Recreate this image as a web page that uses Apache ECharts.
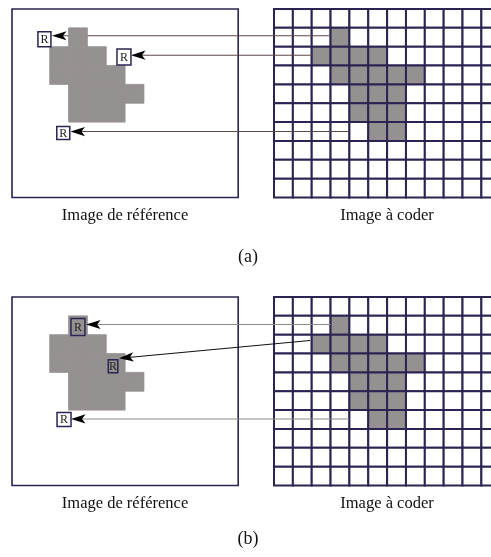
<!DOCTYPE html>
<html>
  <head>
    <title></title>
    <meta charset="UTF-8" />
    <script src="https://cdn.jsdelivr.net/npm/echarts@6/dist/echarts.min.js"></script>
    <style>
      body { margin: 0; background: #fff; }
    </style>
  </head>
  <body>
    <div id="main"></div>
    <script>
      const width = 491;
      const height = 557;
      const main = document.getElementById('main');
      main.style.width = `${width}px`;
      main.style.height = `${height}px`;

      // --- data (all in cell units) ---
      const refCols = 12;
      const gridRows = 10;
      const codeCols = 12;
      const codeOffset = 13.9; // where the coded image starts, in cells
      // gray block in the reference image [col, row]
      const refShape = [
        [3, 1],
        [2, 2], [3, 2], [4, 2],
        [2, 3], [3, 3], [4, 3], [5, 3],
        [3, 4], [4, 4], [5, 4], [6, 4],
        [3, 5], [4, 5], [5, 5],
      ];
      // gray block in the image to code [col, row]
      const codeShape = [
        [3, 1],
        [2, 2], [3, 2], [4, 2], [5, 2],
        [3, 3], [4, 3], [5, 3], [6, 3], [7, 3],
        [4, 4], [5, 4], [6, 4],
        [4, 5], [5, 5], [6, 5],
        [5, 6], [6, 6],
      ];
      // reference blocks "R" (centre x, centre y)
      const blocksA = [[1.72, 1.6], [5.94, 2.55], [2.72, 6.58]];
      const blocksB = [[3.5, 1.59], [5.36, 3.68], [2.76, 6.5]];
      // arrows [x from, y from, x to, y to]
      const arrowsA = [
        [16.9, 1.42, 2.12, 1.42],
        [15.9, 2.45, 6.31, 2.45],
        [17.9, 6.5, 3.1, 6.5],
      ];
      const arrowsB = [
        [16.9, 1.46, 3.93, 1.46],
        [15.81, 2.31, 5.68, 3.25],
        [17.88, 6.47, 3.13, 6.47],
      ];
      const captions = ['(a)', '(b)'];

      // --- look ---
      const CELL = 18.85;
      const NAVY = '#2b2452';
      const GRAY = '#969191';
      const panelTops = [9, 297];
      const labelY = [[216, 257], [504, 539]];
      const lineColors = [
        ['#5b4a48', '#5b4a48', '#5b4a48'],
        ['#8f8a86', '#111111', '#8f8a86'],
      ];
      const blockStyles = [
        [{ w: 13, h: 15, fill: '#fff' }, { w: 14, h: 16, fill: '#fff' }, { w: 13, h: 13, fill: '#fff' }],
        [{ w: 14, h: 17, fill: GRAY }, { w: 9.5, h: 13, fill: GRAY }, { w: 14, h: 14, fill: '#fff' }],
      ];
      const serif = '"Liberation Serif", "DejaVu Serif", serif';

      const codeCells = [];
      const codeSet = new Set(codeShape.map((d) => d.join(',')));
      for (let r = 0; r < gridRows; r++) {
        for (let c = 0; c < codeCols; c++) {
          codeCells.push([codeOffset + c, r, codeSet.has(c + ',' + r) ? 1 : 0]);
        }
      }

      function cellRect(api, x, y, w, h) {
        const a = api.coord([x, y]);
        const b = api.coord([x + w, y + h]);
        return { x: a[0], y: a[1], width: b[0] - a[0], height: b[1] - a[1] };
      }

      const grids = [];
      const xAxes = [];
      const yAxes = [];
      const series = [];
      const graphic = [];

      [[blocksA, arrowsA], [blocksB, arrowsB]].forEach(([blocks, arrows], i) => {
        grids.push({ left: 12, top: panelTops[i], width: width - 12, height: gridRows * CELL });
        xAxes.push({ gridIndex: i, type: 'value', min: 0, max: (width - 12) / CELL, show: false });
        yAxes.push({ gridIndex: i, type: 'value', min: 0, max: gridRows, inverse: true, show: false });
        const ax = { xAxisIndex: i, yAxisIndex: i, silent: true, animation: false };

        // frame of the reference image
        series.push({
          ...ax, type: 'custom', z: 1,
          data: [[0, 0]],
          renderItem: (p, api) => ({
            type: 'rect',
            shape: cellRect(api, 0, 0, refCols, gridRows),
            style: { fill: '#fff', stroke: NAVY, lineWidth: 1.6 },
          }),
        });
        // grid of the image to code
        series.push({
          ...ax, type: 'custom', z: 1,
          data: codeCells,
          renderItem: (p, api) => ({
            type: 'rect',
            shape: cellRect(api, api.value(0), api.value(1), 1, 1),
            style: { fill: api.value(2) ? GRAY : '#fff', stroke: NAVY, lineWidth: 2 },
          }),
        });
        // arrow shafts
        series.push({
          ...ax, type: 'custom', z: 2,
          data: arrows,
          renderItem: (p, api) => {
            const a = api.coord([api.value(0), api.value(1)]);
            const b = api.coord([api.value(2), api.value(3)]);
            const ang = Math.atan2(b[1] - a[1], b[0] - a[0]);
            return {
              type: 'line',
              shape: { x1: a[0], y1: a[1], x2: b[0] - 9 * Math.cos(ang), y2: b[1] - 9 * Math.sin(ang) },
              style: { stroke: lineColors[i][p.dataIndex], lineWidth: 1.1 },
            };
          },
        });
        // gray block in reference image
        series.push({
          ...ax, type: 'custom', z: 3,
          data: refShape,
          renderItem: (p, api) => ({
            type: 'rect',
            shape: cellRect(api, api.value(0), api.value(1), 1, 1),
            style: { fill: GRAY, stroke: GRAY, lineWidth: 0.8 },
          }),
        });
        // arrow heads
        series.push({
          ...ax, type: 'custom', z: 4,
          data: arrows,
          renderItem: (p, api) => {
            const a = api.coord([api.value(0), api.value(1)]);
            const b = api.coord([api.value(2), api.value(3)]);
            const ang = Math.atan2(b[1] - a[1], b[0] - a[0]);
            const ux = Math.cos(ang), uy = Math.sin(ang);
            const L = 14.5, hw = 4.6, N = 11;
            return {
              type: 'polygon',
              shape: {
                points: [
                  [b[0], b[1]],
                  [b[0] - L * ux - hw * uy, b[1] - L * uy + hw * ux],
                  [b[0] - N * ux, b[1] - N * uy],
                  [b[0] - L * ux + hw * uy, b[1] - L * uy - hw * ux],
                ],
              },
              style: { fill: '#000' },
            };
          },
        });
        // reference blocks
        series.push({
          ...ax, type: 'custom', z: 5,
          data: blocks,
          renderItem: (p, api) => {
            const c = api.coord([api.value(0), api.value(1)]);
            const s = blockStyles[i][p.dataIndex];
            return {
              type: 'group',
              children: [
                {
                  type: 'rect',
                  shape: { x: c[0] - s.w / 2, y: c[1] - s.h / 2, width: s.w, height: s.h },
                  style: { fill: s.fill, stroke: NAVY, lineWidth: 1.5 },
                },
                {
                  type: 'text',
                  style: {
                    text: 'R', x: c[0], y: c[1] + 0.5, align: 'center', verticalAlign: 'middle',
                    font: `12px ${serif}`, fill: '#222',
                  },
                },
              ],
            };
          },
        });

        graphic.push(
          { type: 'text', x: 125, y: labelY[i][0], style: { text: 'Image de référence', align: 'center', verticalAlign: 'middle', font: `16.5px ${serif}`, fill: '#111' } },
          { type: 'text', x: 387, y: labelY[i][0], style: { text: 'Image à coder', align: 'center', verticalAlign: 'middle', font: `16.5px ${serif}`, fill: '#111' } },
          { type: 'text', x: 248, y: labelY[i][1], style: { text: captions[i], align: 'center', verticalAlign: 'middle', font: `18px ${serif}`, fill: '#111' } }
        );
      });

      const myChart = echarts.init(main);
      myChart.setOption({
        animation: false,
        backgroundColor: '#fff',
        grid: grids,
        xAxis: xAxes,
        yAxis: yAxes,
        series: series,
        graphic: graphic,
      });
    </script>
  </body>
</html>
